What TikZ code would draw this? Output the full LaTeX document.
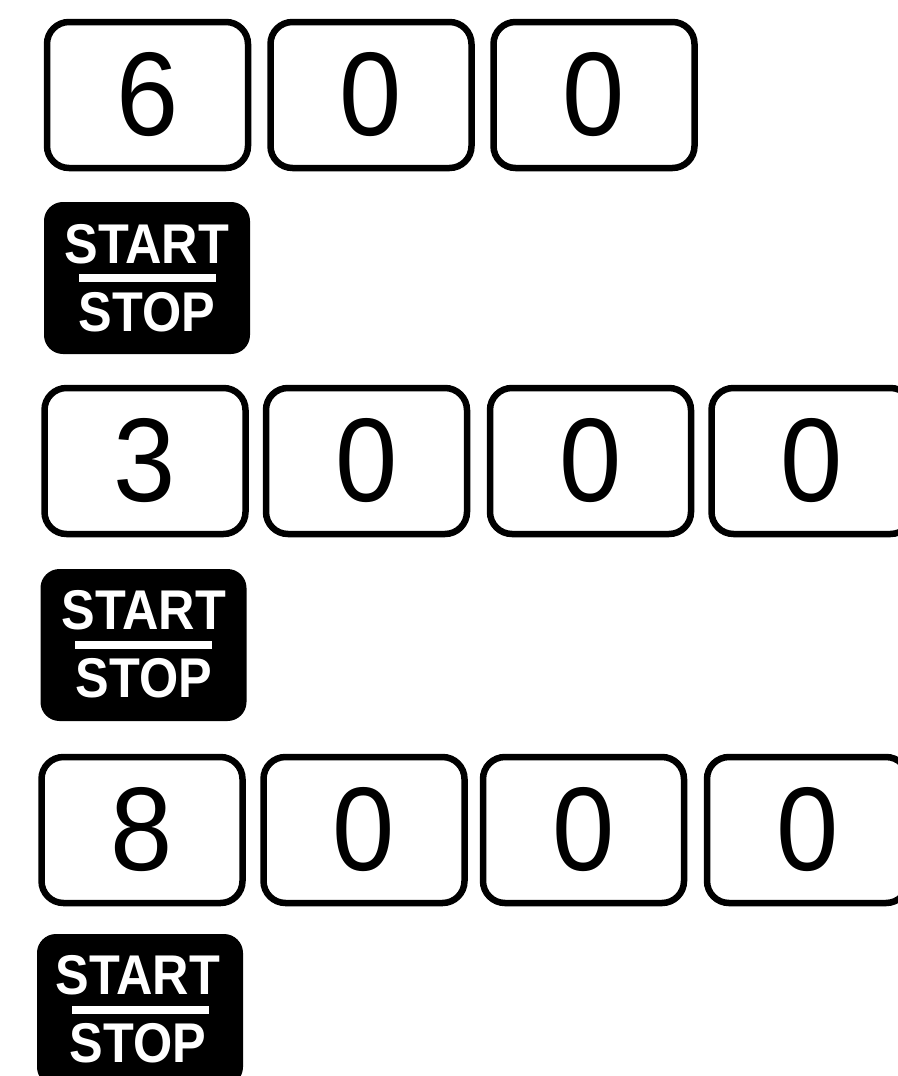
\documentclass[tikz,border=0pt]{standalone}
\usepackage{fontspec}
\setmainfont{Liberation Sans}

\begin{document}
\begin{tikzpicture}[x=1pt, y=-1pt,
  digitkey/.style={draw, line width=6.5pt, rounded corners=22pt, minimum width=201pt, minimum height=146pt, inner sep=0pt, font=\fontsize{119}{120}\selectfont},
  startkey/.style={draw, fill=black, line width=2pt, rounded corners=18pt, minimum width=204pt, minimum height=150pt},
  keylabel/.style={text=white, inner sep=0pt, font=\bfseries\fontsize{56}{58}\selectfont},
  keybar/.style={fill=white, inner sep=0pt, minimum width=137pt, minimum height=8pt}]

\useasboundingbox (0, 0) rectangle (897, 1076);

% First entry: 600
\node[digitkey] (a1) at (147.5, 95) {\scalebox{0.94}[1]{6}};
\node[digitkey] (a2) at (371, 95) {\scalebox{0.94}[1]{0}};
\node[digitkey] (a3) at (594, 95) {\scalebox{0.94}[1]{0}};

% Start/stop key
\node[startkey] (s1) at (147, 278) {};
\node[keylabel] (start1) at (147, 244) {\scalebox{0.9}[1]{START}};
\node[keybar] (bar1) at (s1.center) {};
\node[keylabel] (stop1) at (147, 312) {\scalebox{0.9}[1]{STOP}};

% Second entry: 3000
\node[digitkey] (b1) at (145, 461) {\scalebox{0.94}[1]{3}};
\node[digitkey] (b2) at (366.5, 461) {\scalebox{0.94}[1]{0}};
\node[digitkey] (b3) at (590.5, 461) {\scalebox{0.94}[1]{0}};
\node[digitkey] (b4) at (812, 461) {\scalebox{0.94}[1]{0}};

% Start/stop key
\node[startkey] (s2) at (143.5, 645) {};
\node[keylabel] (start2) at (144, 610) {\scalebox{0.9}[1]{START}};
\node[keybar] (bar2) at (s2.center) {};
\node[keylabel] (stop2) at (144, 678) {\scalebox{0.9}[1]{STOP}};

% Third entry: 8000
\node[digitkey] (c1) at (142, 830) {\scalebox{0.94}[1]{8}};
\node[digitkey] (c2) at (364, 830) {\scalebox{0.94}[1]{0}};
\node[digitkey] (c3) at (583.5, 830) {\scalebox{0.94}[1]{0}};
\node[digitkey] (c4) at (807.5, 830) {\scalebox{0.94}[1]{0}};

% Start/stop key
\node[startkey] (s3) at (140, 1010) {};
\node[keylabel] (start3) at (138, 975) {\scalebox{0.9}[1]{START}};
\node[keybar] (bar3) at (s3.center) {};
\node[keylabel] (stop3) at (138, 1043) {\scalebox{0.9}[1]{STOP}};

\end{tikzpicture}
\end{document}
